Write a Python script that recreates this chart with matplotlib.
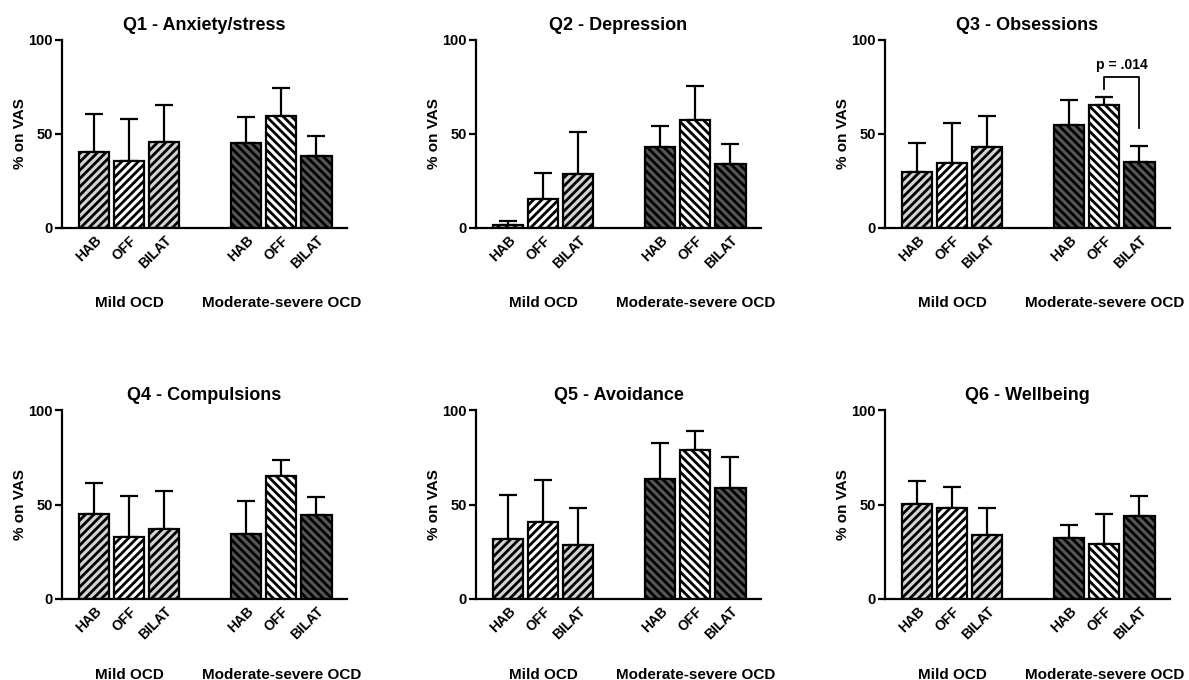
import numpy as np
from matplotlib import pyplot as plt

plt.rcParams['font.family'] = ['Liberation Sans', 'DejaVu Sans']
plt.rcParams['font.weight'] = 'bold'
plt.rcParams['hatch.linewidth'] = 2.0

conditions = ['HAB', 'OFF', 'BILAT', 'HAB', 'OFF', 'BILAT']
groups = ['Mild OCD', 'Moderate-severe OCD']
titles = ['Q1 - Anxiety/stress', 'Q2 - Depression', 'Q3 - Obsessions',
          'Q4 - Compulsions', 'Q5 - Avoidance', 'Q6 - Wellbeing']

# mean % on VAS: mild HAB, OFF, BILAT, then moderate-severe HAB, OFF, BILAT
q1_mean = [40.6, 35.5, 45.9, 45.4, 59.6, 38.5]
q1_top = [60.6, 58.0, 65.6, 58.9, 74.3, 48.9]
q2_mean = [1.8, 15.6, 28.9, 42.9, 57.4, 33.8]
q2_top = [3.9, 29.4, 50.8, 54.0, 75.5, 44.8]
q3_mean = [30.0, 34.4, 43.1, 54.6, 65.3, 35.1]
q3_top = [45.0, 55.7, 59.7, 68.1, 69.8, 43.6]
q4_mean = [45.0, 32.8, 37.2, 34.6, 64.9, 44.3]
q4_top = [61.6, 54.7, 57.3, 51.9, 73.5, 54.1]
q5_mean = [31.6, 40.9, 28.6, 63.7, 78.8, 58.9]
q5_top = [55.0, 63.0, 48.3, 82.4, 88.9, 75.1]
q6_mean = [50.4, 48.3, 34.0, 32.1, 28.9, 43.8]
q6_top = [62.3, 59.4, 48.1, 39.0, 44.8, 54.7]

means = [q1_mean, q2_mean, q3_mean, q4_mean, q5_mean, q6_mean]
tops = [q1_top, q2_top, q3_top, q4_top, q5_top, q6_top]

# significance bracket in Q3 (moderate-severe OFF vs BILAT)
sig_label = 'p = .014'

pos = np.array([0, 1, 2, 4.33, 5.33, 6.33])
face = ['#d3d3d3', 'white', '#d3d3d3', '#555555', 'white', '#555555']
hatches = ['////', '////', '////', '\\\\\\\\', '\\\\\\\\', '\\\\\\\\']

fig = plt.figure(figsize=(11.89, 6.8), dpi=100)
W, H = 1189, 680
lefts = [62, 476, 885]
rows = [(40, 228), (410, 599)]

for i in range(6):
    r, c = divmod(i, 3)
    top, bot = rows[r]
    ax = fig.add_axes([lefts[c] / W, 1 - bot / H, 285 / W, (bot - top) / H])
    m = np.array(means[i])
    e = np.array(tops[i]) - m
    ax.errorbar(pos, m, yerr=[np.zeros(6), e], fmt='none', ecolor='black',
                elinewidth=1.6, capsize=6.5, capthick=1.6, zorder=1)
    ax.bar(pos, m, width=0.86, color=face, edgecolor='black', linewidth=1.6,
           hatch=hatches, zorder=2)
    ax.set_xlim(-0.91, 7.2)
    ax.set_ylim(0, 100)
    ax.set_yticks([0, 50, 100])
    ax.spines['top'].set_visible(False)
    ax.spines['right'].set_visible(False)
    ax.spines['left'].set_linewidth(1.6)
    ax.spines['bottom'].set_linewidth(1.6)
    ax.tick_params(axis='y', width=1.6, length=5, labelsize=10.5, pad=1.5)
    ax.tick_params(axis='x', length=0, labelsize=10, pad=4)
    ax.set_xticks(pos)
    ax.set_xticklabels(conditions, rotation=45, ha='right',
                       rotation_mode='anchor', fontweight='bold')
    ax.set_ylabel('% on VAS', fontsize=11, fontweight='bold', labelpad=1)
    ax.set_title(titles[i], fontsize=13, fontweight='bold', pad=7)
    for g, x in zip(groups, [pos[1], pos[4]]):
        ax.text(x, -0.4, g, transform=ax.get_xaxis_transform(),
                ha='center', va='center', fontsize=11, fontweight='bold')
    if i == 2:
        x1, x2 = pos[4], pos[5]
        ax.plot([x1, x1, x2, x2], [73.8, 80.5, 80.5, 53], color='black',
                lw=1.3, clip_on=False)
        ax.text((x1 + x2) / 2, 86.5, sig_label, ha='center', va='center',
                fontsize=10, fontweight='bold')

fig.savefig('out.png', dpi=100)
